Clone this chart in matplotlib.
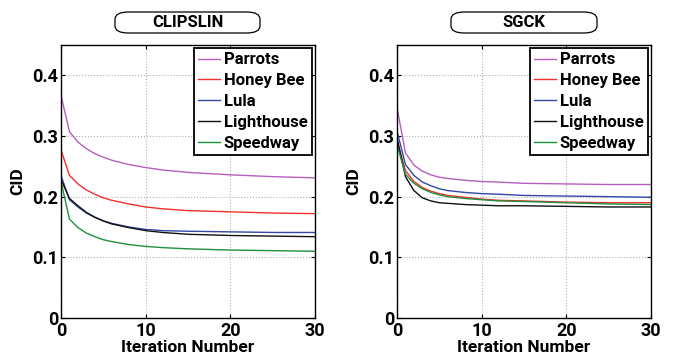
import numpy as np
import matplotlib.pyplot as plt
from matplotlib.patches import FancyBboxPatch

plt.rcParams['font.family'] = ['Roboto', 'DejaVu Sans']
plt.rcParams['font.weight'] = 'bold'

names = ['Parrots', 'Honey Bee', 'Lula', 'Lighthouse', 'Speedway']
colors = ['#b65fbf', '#f0302a', '#3346a8', '#111111', '#1f9040']

iters = [0, 1, 2, 3, 4, 5, 6, 8, 10, 12, 15, 20, 25, 30]

# CLIPSLIN
clip_parrots = [0.367, 0.307, 0.290, 0.279, 0.271, 0.265, 0.260, 0.253, 0.248, 0.244, 0.240, 0.236, 0.233, 0.231]
clip_bee = [0.277, 0.235, 0.221, 0.211, 0.204, 0.198, 0.194, 0.188, 0.183, 0.180, 0.177, 0.175, 0.173, 0.172]
clip_lula = [0.235, 0.195, 0.183, 0.173, 0.166, 0.160, 0.156, 0.150, 0.146, 0.144, 0.143, 0.142, 0.141, 0.141]
clip_light = [0.228, 0.197, 0.185, 0.174, 0.166, 0.160, 0.155, 0.149, 0.144, 0.141, 0.138, 0.136, 0.135, 0.134]
clip_speed = [0.225, 0.163, 0.149, 0.140, 0.134, 0.129, 0.126, 0.121, 0.118, 0.116, 0.114, 0.112, 0.111, 0.110]

# SGCK
sgck_parrots = [0.347, 0.272, 0.252, 0.242, 0.236, 0.232, 0.230, 0.227, 0.225, 0.224, 0.222, 0.221, 0.220, 0.220]
sgck_bee = [0.292, 0.243, 0.225, 0.215, 0.209, 0.205, 0.202, 0.199, 0.196, 0.194, 0.193, 0.191, 0.190, 0.190]
sgck_lula = [0.308, 0.253, 0.235, 0.224, 0.218, 0.213, 0.210, 0.207, 0.205, 0.204, 0.202, 0.201, 0.200, 0.199]
sgck_light = [0.297, 0.233, 0.210, 0.198, 0.193, 0.190, 0.189, 0.187, 0.186, 0.185, 0.185, 0.184, 0.183, 0.183]
sgck_speed = [0.285, 0.237, 0.222, 0.213, 0.207, 0.203, 0.200, 0.197, 0.195, 0.193, 0.192, 0.190, 0.188, 0.187]

panels = [('CLIPSLIN', [clip_parrots, clip_bee, clip_lula, clip_light, clip_speed]),
          ('SGCK', [sgck_parrots, sgck_bee, sgck_lula, sgck_light, sgck_speed])]

W, H = 673, 358
fig = plt.figure(figsize=(W / 100, H / 100), dpi=100)
lefts = [61, 397]
boxes = [(115, 260), (451, 597)]
for (title, series), left, (bx0, bx1) in zip(panels, lefts, boxes):
    ax = fig.add_axes([left / W, 40 / H, 254 / W, 273 / H])
    for name, c, s in zip(names, colors, series):
        ax.plot(iters, s, color=c, lw=1.0, label=name)
    ax.set_xlim(0, 30)
    ax.set_ylim(0, 0.45)
    ax.set_xticks([0, 10, 20, 30])
    ax.set_yticks([0, 0.1, 0.2, 0.3, 0.4])
    ax.set_yticklabels(['0', '0.1', '0.2', '0.3', '0.4'])
    ax.tick_params(direction='in', top=True, right=True, labelsize=13, length=3)
    ax.tick_params(axis='x', pad=3)
    ax.tick_params(axis='y', pad=2)
    ax.grid(True, color='#b0b0b0', linestyle=':', lw=0.8)
    for sp in ax.spines.values():
        sp.set_linewidth(1.0)
    ax.set_xlabel('Iteration Number', fontsize=12.5, fontweight='bold', labelpad=0)
    ax.set_ylabel('CID', fontsize=12.5, fontweight='bold', labelpad=5)
    leg = ax.legend(loc='upper right', fontsize=12, handlelength=1.3, handletextpad=0.25,
                    borderpad=0.25, labelspacing=0.35, borderaxespad=0.2, fancybox=False,
                    framealpha=1, edgecolor='black')
    leg.get_frame().set_linewidth(1.3)
    for t in leg.get_texts():
        t.set_fontweight('bold')

    # rounded title box
    box = FancyBboxPatch((bx0 / W, (H - 33) / H), (bx1 - bx0) / W, 21 / H,
                         boxstyle='round,pad=0,rounding_size=0.02', transform=fig.transFigure,
                         fc='white', ec='black', lw=0.9)
    fig.patches.append(box)
    fig.text((bx0 + bx1) / 2 / W, (H - 22.5) / H, title, ha='center', va='center',
             fontsize=12, fontweight='bold')

fig.savefig('out.png', dpi=100)
